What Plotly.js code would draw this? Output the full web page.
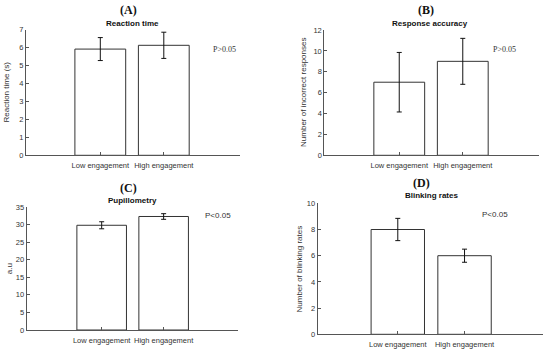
<!DOCTYPE html>
<html><head><meta charset="utf-8">
<script src="https://cdn.plot.ly/plotly-3.0.1.min.js"></script>
<style>html,body{margin:0;padding:0;background:#fff}#chart{width:550px;height:351px}</style>
</head><body><div id="chart"></div>
<script>
const categories = ["Low engagement", "High engagement"];
const reactionTime = [5.92, 6.13];
const reactionTimeErr = [0.64, 0.73];
const incorrectResponses = [7, 9];
const incorrectResponsesErr = [2.85, 2.2];
const pupillometry = [29.8, 32.3];
const pupillometryErr = [1.0, 0.8];
const blinkingRates = [8, 6];
const blinkingRatesErr = [0.85, 0.5];

const W = 550, H = 351;
const panels = [
  {letter:"(A)", title:"Reaction time", ytitle:"Reaction time (s)", vals:reactionTime, err:reactionTimeErr, yr:[0,7], dt:1,
   xd:[26,240], yd:[155.3,29.7], xr:[-1.17,2.2], lp:[128,10], tp:[132,23], yo:20},
  {letter:"(B)", title:"Response accuracy", ytitle:"Number of incorrect responses", vals:incorrectResponses, err:incorrectResponsesErr, yr:[0,12], dt:2,
   xd:[324.3,539], yd:[155.3,30], xr:[-1.18,2.2], lp:[426,10], tp:[430,23.5], yo:21},
  {letter:"(C)", title:"Pupillometry", ytitle:"a.u", vals:pupillometry, err:pupillometryErr, yr:[0,35], dt:5,
   xd:[26.7,238], yd:[330,207], xr:[-1.21,2.2], lp:[128,188], tp:[132,200], yo:17},
  {letter:"(D)", title:"Blinking rates", ytitle:"Number of blinking rates", vals:blinkingRates, err:blinkingRatesErr, yr:[0,10], dt:2,
   xd:[317.7,543.3], yd:[334.3,203.3], xr:[-1.2,2.18], lp:[421,182.5], tp:[431,195], yo:18}
];
const pLabels = [
  {text:"P>0.05", x:224, y:43, serif:true},
  {text:"P>0.05", x:518, y:43, serif:true},
  {text:"P<0.05", x:218, y:215, serif:false},
  {text:"P<0.05", x:510, y:214, serif:false}
];

const px = v => v/W, py = v => 1 - v/H;
const data = [];
const layout = {
  width:W, height:H, margin:{l:0,r:0,t:0,b:0},
  paper_bgcolor:"#fff", plot_bgcolor:"#fff", showlegend:false,
  font:{family:"Liberation Sans, Arial, sans-serif", color:"#333"},
  annotations:[]
};
const tickFont = {family:"Liberation Sans, Arial, sans-serif", size:7.5, color:"#333"};

panels.forEach((p,i)=>{
  const n = i+1;
  const xa = "x"+(n===1?"":n), ya = "y"+(n===1?"":n);
  data.push({
    type:"bar", x:categories, y:p.vals, xaxis:xa, yaxis:ya, width:0.8,
    marker:{color:"#fff", line:{color:"#333", width:1}},
    error_y:{type:"data", array:p.err, visible:true, color:"#111", thickness:1, width:2.5},
    hoverinfo:"x+y"
  });
  const xk = "xaxis"+(n===1?"":n), yk = "yaxis"+(n===1?"":n);
  layout[xk] = {domain:[px(p.xd[0]),px(p.xd[1])], anchor:ya, type:"category", range:p.xr, showline:true, linecolor:"#555", linewidth:1,
    ticks:"inside", ticklen:3, tickcolor:"#555", tickfont:tickFont, ticklabelstandoff:3, showgrid:false, zeroline:false, fixedrange:true};
  layout[yk] = {domain:[py(p.yd[0]),py(p.yd[1])], anchor:xa, range:p.yr, dtick:p.dt, showline:true, linecolor:"#555", linewidth:1,
    ticks:"inside", ticklen:3, tickcolor:"#555", tickfont:tickFont, showgrid:false, zeroline:false, fixedrange:true};
  layout.annotations.push({xref:"paper", yref:"paper", x:px(p.lp[0]), y:py(p.lp[1]), text:"<b>"+p.letter+"</b>", showarrow:false,
    font:{family:"Liberation Serif, Times New Roman, serif", size:12, color:"#111"}, xanchor:"center", yanchor:"middle"});
  layout.annotations.push({xref:"paper", yref:"paper", x:px(p.tp[0]), y:py(p.tp[1]), text:"<b>"+p.title+"</b>", showarrow:false,
    font:{family:"Liberation Sans, Arial, sans-serif", size:8, color:"#111"}, xanchor:"center", yanchor:"middle"});
  layout.annotations.push({xref:"paper", yref:"paper", x:px(p.xd[0]-p.yo), y:py((p.yd[0]+p.yd[1])/2), text:p.ytitle, textangle:-90, showarrow:false,
    font:{family:"Liberation Sans, Arial, sans-serif", size:8, color:"#333"}, xanchor:"center", yanchor:"middle"});
});
pLabels.forEach(l=>{
  layout.annotations.push({xref:"paper", yref:"paper", x:px(l.x), y:py(l.y), text:l.text, showarrow:false,
    font:{family: l.serif ? "Liberation Serif, Times New Roman, serif" : "Liberation Sans, Arial, sans-serif", size:8, color:"#333"}});
});

Plotly.newPlot("chart", data, layout, {displayModeBar:false, staticPlot:true});
</script></body></html>
